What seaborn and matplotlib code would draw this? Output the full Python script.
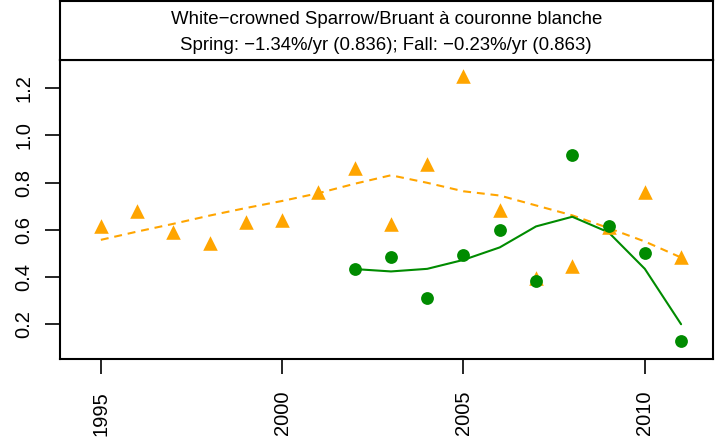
import matplotlib
matplotlib.use('Agg')
import matplotlib.pyplot as plt
import seaborn as sns
import pandas as pd

# ------------------------------
# Data
# ------------------------------
fall_years = list(range(1995, 2012))
fall_index = [0.614, 0.681, 0.589, 0.543, 0.633, 0.642, 0.759, 0.860, 0.624,
              0.877, 1.250, 0.682, 0.397, 0.448, 0.610, 0.760, 0.486]
fall_trend = [0.557, 0.592, 0.625, 0.660, 0.692, 0.722, 0.755, 0.795, 0.831,
              0.799, 0.763, 0.745, 0.703, 0.661, 0.607, 0.550, 0.482]

spring_years = list(range(2002, 2012))
spring_index = [0.433, 0.484, 0.311, 0.491, 0.597, 0.382, 0.916, 0.614, 0.501, 0.128]
spring_trend = [0.433, 0.423, 0.434, 0.472, 0.525, 0.614, 0.655, 0.589, 0.434, 0.199]

title_lines = ["White\u2212crowned Sparrow/Bruant \u00e0 couronne blanche",
               "Spring: \u22121.34%/yr (0.836); Fall: \u22120.23%/yr (0.863)"]
x_ticks = [1995, 2000, 2005, 2010]
y_ticks = [0.2, 0.4, 0.6, 0.8, 1.0, 1.2]

fall = pd.DataFrame({'year': fall_years, 'index': fall_index, 'trend': fall_trend})
spring = pd.DataFrame({'year': spring_years, 'index': spring_index, 'trend': spring_trend})

orange = '#FFA500'
green = '#008B00'

sns.set_style('white')
plt.rcParams['font.family'] = ['Liberation Sans', 'DejaVu Sans']

fig = plt.figure(figsize=(7.23, 4.47), dpi=100)
W, H = 723.0, 447.0
left, right, bottom, top = 59.5, 713.0, 359.0, 60.0
ax = fig.add_axes([left / W, 1 - bottom / H, (right - left) / W, (bottom - top) / H])

# fall: triangles + dashed smooth
sns.lineplot(data=fall, x='year', y='trend', ax=ax, color=orange, lw=1.5,
             dashes=False, linestyle=(0, (3.8, 2.8)))
sns.scatterplot(data=fall, x='year', y='index', ax=ax, color=orange,
                marker='^', s=110, linewidth=0, zorder=3)

# spring: circles + solid smooth
sns.lineplot(data=spring, x='year', y='trend', ax=ax, color=green, lw=1.5)
sns.scatterplot(data=spring, x='year', y='index', ax=ax, color=green,
                marker='o', s=85, linewidth=0, zorder=4)

ax.set_xlim(1993.86, 2011.88)
ax.set_ylim(0.0515, 1.320)
ax.set_xticks(x_ticks)
ax.set_yticks(y_ticks)
ax.set_yticklabels([f'{v:.1f}' for v in y_ticks], rotation=90, va='center')
ax.set_xticklabels([str(v) for v in x_ticks], rotation=90, ha='center')
ax.tick_params(axis='both', direction='out', length=11, width=1.2,
               labelsize=14.5, color='black', labelcolor='black',
               bottom=True, left=True)
ax.tick_params(axis='x', pad=12)
ax.tick_params(axis='y', pad=8)
ax.set_xlabel('')
ax.set_ylabel('')
for sp in ax.spines.values():
    sp.set_color('black')
    sp.set_linewidth(1.5)

# title box above the plot
tax = fig.add_axes([left / W, 1 - top / H, (right - left) / W, (top - 1) / H])
tax.set_xticks([])
tax.set_yticks([])
for sp in tax.spines.values():
    sp.set_color('black')
    sp.set_linewidth(1.5)
tax.text(0.5, 0.69, title_lines[0], ha='center', va='center', fontsize=13.4,
         color='black', transform=tax.transAxes)
tax.text(0.5, 0.25, title_lines[1], ha='center', va='center', fontsize=13.4,
         color='black', transform=tax.transAxes)

fig.savefig('out.png', dpi=100)
